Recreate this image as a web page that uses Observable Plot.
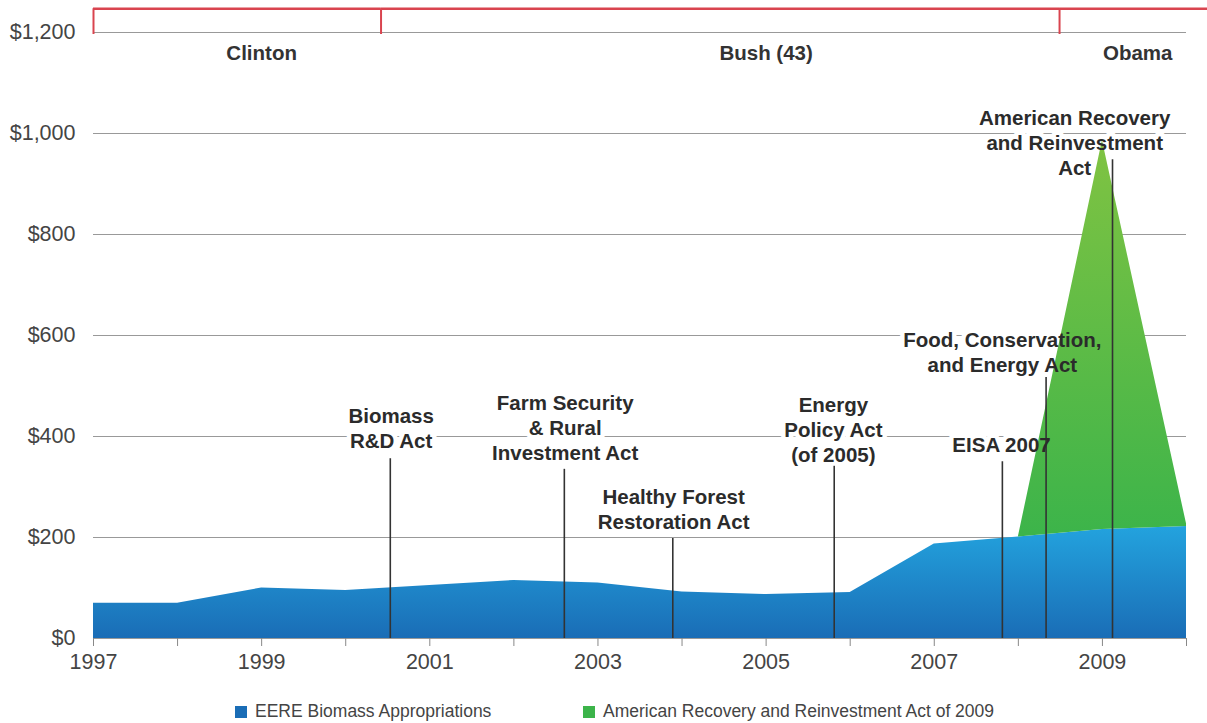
<!DOCTYPE html>
<html>
<head>
<meta charset="utf-8">
<script src="https://cdn.jsdelivr.net/npm/d3@7"></script>
<script src="https://cdn.jsdelivr.net/npm/@observablehq/plot@0.6"></script>
<style>
  html, body { margin: 0; padding: 0; background: #fff; }
  #chart { position: relative; width: 1207px; height: 723px; font-family: "Liberation Sans", Arial, sans-serif; }
  #chart svg { display: block; }
  .legend { position: absolute; left: 0; top: 700px; width: 1207px; height: 23px; color: #444; font-size: 17.5px; }
  .legend .item { position: absolute; top: 1px; display: flex; align-items: center; white-space: nowrap; }
  .legend .swatch { width: 12px; height: 12px; margin-right: 8px; }
</style>
</head>
<body>
<div id="chart"></div>
<script>
// Fiscal years and EERE biomass appropriations ($ millions)
const years = [1997, 1998, 1999, 2000, 2001, 2002, 2003, 2004, 2005, 2006, 2007, 2008, 2009, 2010];
const eereBiomass = [70, 70, 100, 95, 105, 115, 110, 92, 87, 91, 187, 201, 216, 222];

// American Recovery and Reinvestment Act funding, stacked above the appropriations
const arraYears = [2008, 2009, 2010];
const arraFunding = [0, 770, 5];

// Y axis ticks
const yTicks = [0, 200, 400, 600, 800, 1000, 1200];

// Presidential terms drawn as a bracket above the plot
const termNames = ["Clinton", "Bush (43)", "Obama"];
const termStarts = [1997, 2000.42, 2008.49];
const termEnds = [2000.42, 2008.49, 2010.25];
const termLabelAt = [1999, 2005, 2009.42];
const termBandTop = 1247;

// Legislation markers: enactment date, label anchor and the top of the marker line
const eventNames = [
  "Biomass\nR&D Act",
  "Farm Security\n& Rural\nInvestment Act",
  "Healthy Forest\nRestoration Act",
  "Energy\nPolicy Act\n(of 2005)",
  "EISA 2007",
  "Food, Conservation,\nand Energy Act",
  "American Recovery\nand Reinvestment\nAct"
];
const eventDates = [2000.53, 2002.60, 2003.89, 2005.81, 2007.81, 2008.33, 2009.12];
const eventLabelX = [2000.54, 2002.61, 2003.90, 2005.80, 2007.80, 2007.81, 2008.67];
const eventLabelY = [378, 354, 216, 350, 370, 527, 917];
const eventLineTop = [356, 335, 198, 341, 350, 517, 948];

// Series names and colours
const seriesNames = ["EERE Biomass Appropriations", "American Recovery and Reinvestment Act of 2009"];
const blueStops = ["#23a3de", "#1a6db6"];
const greenStops = ["#80c342", "#3cb44a"];

// Tables built from the arrays above
const biomassRows = years.map((year, i) => ({year, value: eereBiomass[i]}));
const arraRows = arraYears.map((year, i) => {
  const base = eereBiomass[years.indexOf(year)];
  return {year, base, top: base + arraFunding[i]};
});
const terms = termNames.map((name, i) => ({name, start: termStarts[i], end: termEnds[i], labelAt: termLabelAt[i]}));
const events = eventNames.map((name, i) => ({
  name, date: eventDates[i], labelX: eventLabelX[i], labelY: eventLabelY[i], lineTop: eventLineTop[i]
}));

const labelFont = {fontSize: 20.5, fontWeight: "bold", lineHeight: 1.22};
const red = "#d9444f";

const plot = Plot.plot({
  width: 1207,
  height: 698,
  marginLeft: 93,
  marginRight: 21,
  marginTop: 32,
  marginBottom: 60,
  x: {domain: [1997, 2010]},
  y: {domain: [0, 1200]},
  style: {fontFamily: "'Liberation Sans', Arial, sans-serif", background: "white", overflow: "visible"},
  marks: [
    Plot.gridY(yTicks, {stroke: "#999", strokeOpacity: 1, strokeWidth: 1.1}),

    // presidential bracket
    Plot.ruleY(terms, {x1: "start", x2: "end", y: termBandTop, stroke: red, strokeWidth: 2.5}),
    Plot.ruleX(terms, {x: "start", y1: 1196, y2: termBandTop, stroke: red, strokeWidth: 2}),
    Plot.text(terms, {x: "labelAt", y: 1200, dy: 19, text: "name", fill: "#333", ...labelFont}),

    // white backing behind the legislation labels
    Plot.text(events, {x: "labelX", y: "labelY", text: "name", lineAnchor: "bottom", fill: "white", stroke: "white", strokeWidth: 9, ...labelFont}),

    // funding areas
    Plot.areaY(biomassRows, {x: "year", y: "value", fill: "url(#blueFill)"}),
    Plot.areaY(arraRows, {x: "year", y1: "base", y2: "top", fill: "url(#greenFill)"}),

    // legislation markers
    Plot.ruleX(events, {x: "date", y1: 0, y2: "lineTop", stroke: "#333", strokeWidth: 1.6}),
    Plot.text(events, {x: "labelX", y: "labelY", text: "name", lineAnchor: "bottom", fill: "#2b2b2b", ...labelFont}),

    // axes
    Plot.axisY(yTicks, {tickSize: 0, tickPadding: 18, fontSize: 21.5, fill: "#444", label: null,
      tickFormat: d => "$" + d3.format(",")(d)}),
    Plot.axisX(years, {tickSize: 8, tickPadding: 7, fontSize: 21.5, fill: "#444", stroke: "#888", label: null,
      tickFormat: d => (d % 2 ? String(d) : "")})
  ]
});

// vertical gradients for the two areas
const svg = d3.select(plot);
const defs = svg.insert("defs", ":first-child");
[["blueFill", blueStops], ["greenFill", greenStops]].forEach(([id, stops]) => {
  const g = defs.append("linearGradient").attr("id", id).attr("x1", 0).attr("y1", 0).attr("x2", 0).attr("y2", 1);
  g.append("stop").attr("offset", "0%").attr("stop-color", stops[0]);
  g.append("stop").attr("offset", "100%").attr("stop-color", stops[1]);
});

const chart = document.getElementById("chart");
chart.appendChild(plot);

// legend below the plot
const legend = d3.select(chart).append("div").attr("class", "legend");
const legendLeft = [235, 583];
const legendColors = [blueStops[1], greenStops[1]];
seriesNames.forEach((name, i) => {
  const item = legend.append("div").attr("class", "item").style("left", legendLeft[i] + "px");
  item.append("div").attr("class", "swatch").style("background", legendColors[i]);
  item.append("span").text(name);
});
</script>
</body>
</html>
